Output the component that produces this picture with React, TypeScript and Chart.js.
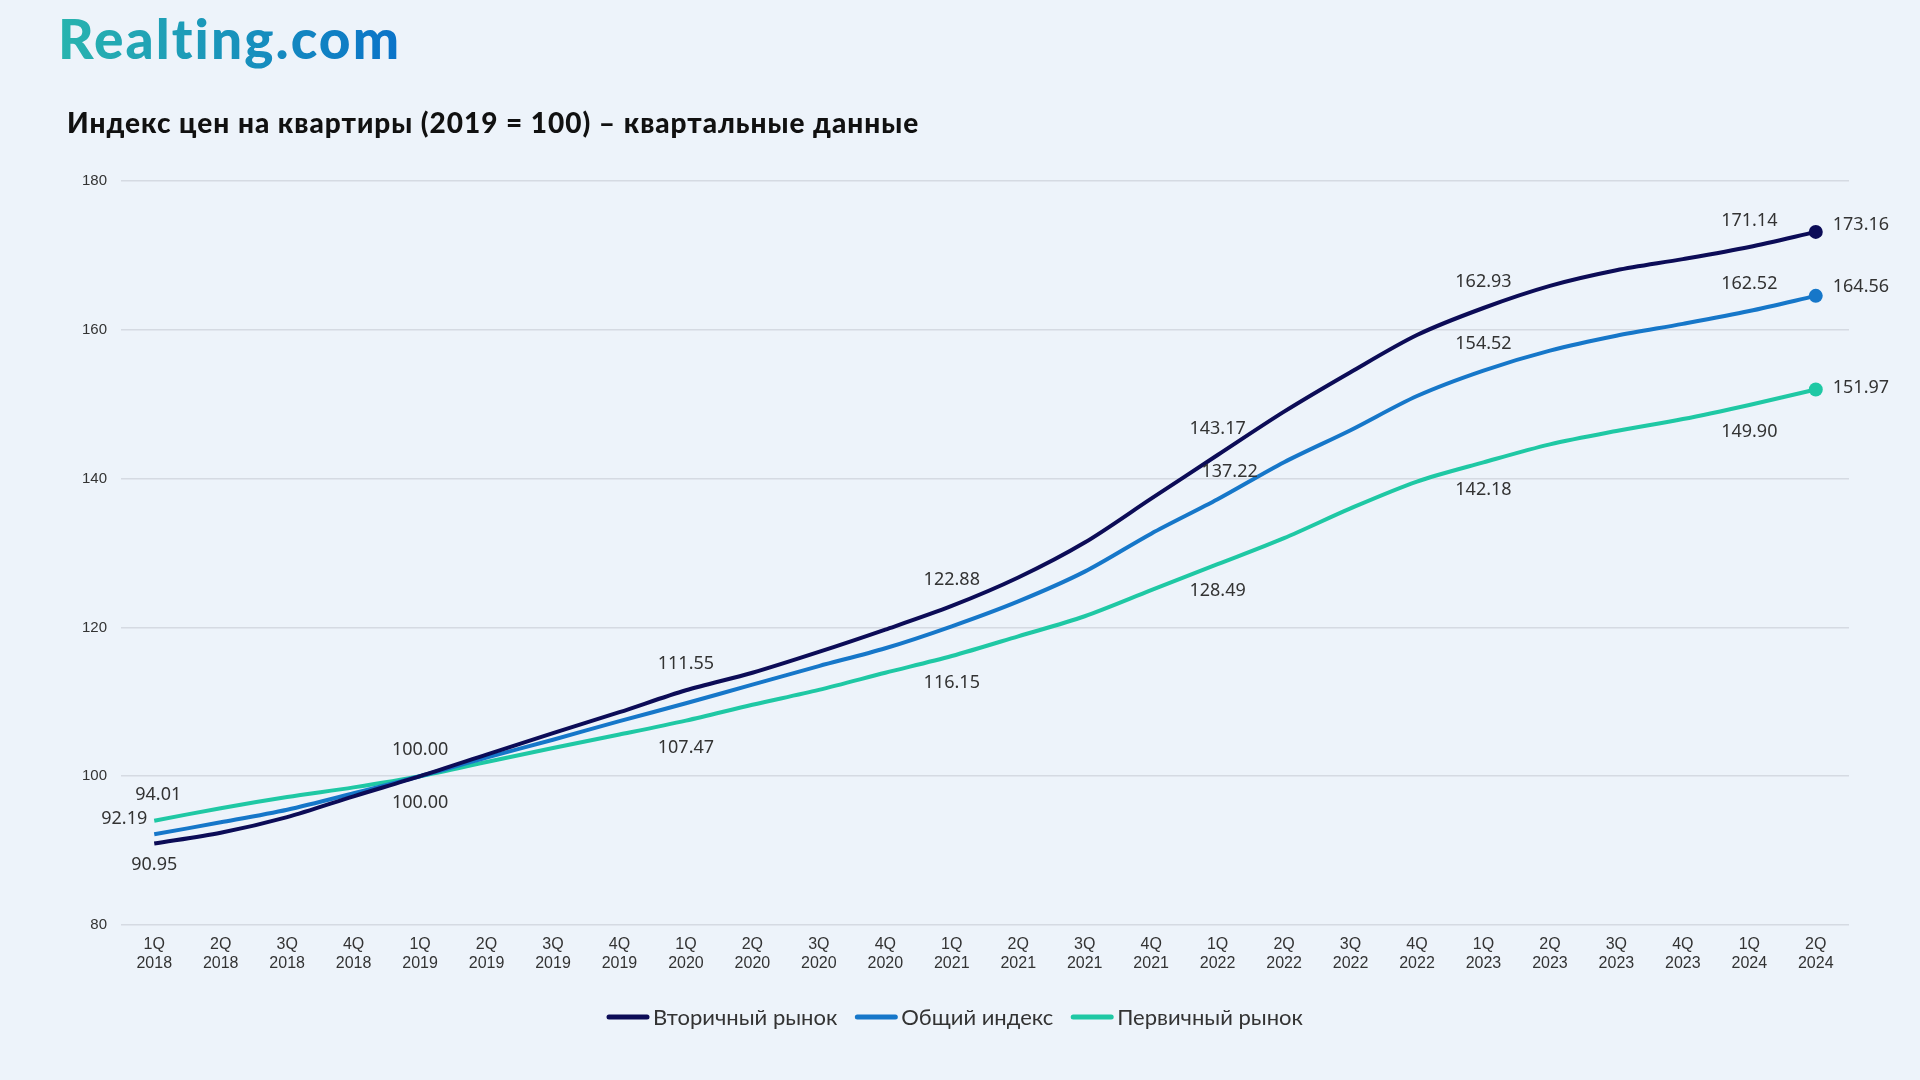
import { useEffect, useRef } from "react";
import { Chart, registerables } from "chart.js";

Chart.register(...registerables);

// ---------- DATA ----------
const quarterLabels = ["1Q", "2Q", "3Q", "4Q", "1Q", "2Q", "3Q", "4Q", "1Q", "2Q", "3Q", "4Q", "1Q", "2Q", "3Q", "4Q", "1Q", "2Q", "3Q", "4Q", "1Q", "2Q", "3Q", "4Q", "1Q", "2Q"];
const yearLabels = ["2018", "2018", "2018", "2018", "2019", "2019", "2019", "2019", "2020", "2020", "2020", "2020", "2021", "2021", "2021", "2021", "2022", "2022", "2022", "2022", "2023", "2023", "2023", "2023", "2024", "2024"];

const secondaryMarket = [90.95, 92.4, 94.5, 97.3, 100.0, 102.9, 105.8, 108.6, 111.55, 113.9, 116.7, 119.7, 122.88, 126.7, 131.4, 137.3, 143.17, 149.0, 154.3, 159.3, 162.93, 165.9, 168.0, 169.5, 171.14, 173.16];
const generalIndex = [92.19, 93.8, 95.5, 97.7, 100.0, 102.5, 104.9, 107.4, 109.8, 112.3, 114.8, 117.2, 120.15, 123.5, 127.5, 132.6, 137.22, 142.2, 146.5, 151.1, 154.52, 157.2, 159.2, 160.8, 162.52, 164.56];
const primaryMarket = [94.01, 95.7, 97.2, 98.5, 100.0, 101.9, 103.8, 105.6, 107.47, 109.6, 111.6, 113.9, 116.15, 118.8, 121.5, 125.0, 128.49, 132.0, 136.0, 139.6, 142.18, 144.6, 146.4, 148.0, 149.9, 151.97];

const seriesNames = ["Вторичный рынок", "Общий индекс", "Первичный рынок"];

// indices of points that carry a value label
const secondaryLabelIdx = [0, 4, 8, 12, 16, 20, 24, 25];
const generalLabelIdx = [0, 16, 20, 24, 25];
const primaryLabelIdx = [0, 4, 8, 12, 16, 20, 24, 25];

const yTicks = [80, 100, 120, 140, 160, 180];

const titleText = "Индекс цен на квартиры (2019 = 100) – квартальные данные";
const logoText = "Realting.com";

// ---------- STYLE ----------
const BG = "#edf3fa";
const COLORS = ["#0c0c57", "#1677c9", "#1fc8a4"];
const TEXT = "#333333";
const LAST = quarterLabels.length - 1;

type Place = { dx: number; dy: number; align: CanvasTextAlign };
function placeFor(series: number, idx: number): Place {
  if (idx === LAST) return { dx: 17, dy: series === 0 ? -7 : series === 1 ? -9 : -2, align: "left" };
  if (series === 0) {
    if (idx === 0) return { dx: 0, dy: 21, align: "center" };
    return { dx: 0, dy: -26, align: "center" };
  }
  if (series === 1) {
    if (idx === 0) return { dx: -7, dy: -15, align: "right" };
    if (idx === 16) return { dx: 12, dy: -27, align: "center" };
    return { dx: 0, dy: -27, align: "center" };
  }
  if (idx === 0) return { dx: 4, dy: -26, align: "center" };
  return { dx: 0, dy: 27, align: "center" };
}

const labelPlugin = {
  id: "valueLabels",
  afterDatasetsDraw(chart: any) {
    const ctx: CanvasRenderingContext2D = chart.ctx;
    const xs = chart.scales.x;
    const ys = chart.scales.y;
    const sets = [secondaryMarket, generalIndex, primaryMarket];
    const idxs = [secondaryLabelIdx, generalLabelIdx, primaryLabelIdx];
    ctx.save();
    ctx.font = '18px "Noto Sans"';
    ctx.fillStyle = TEXT;
    ctx.textBaseline = "middle";
    sets.forEach((data, s) => {
      idxs[s].forEach((i) => {
        const p = placeFor(s, i);
        const x = xs.getPixelForValue(i) + p.dx;
        const y = ys.getPixelForValue(data[i]) + p.dy;
        ctx.textAlign = p.align;
        ctx.fillText(data[i].toFixed(2), x, y);
      });
    });
    ctx.restore();
  },
};

function fitSpacing(ctx: any, text: string, target: number) {
  ctx.letterSpacing = "0px";
  const w = ctx.measureText(text).width;
  const sp = (target - w) / Math.max(1, text.length - 1);
  ctx.letterSpacing = sp.toFixed(2) + "px";
}

const decorPlugin = {
  id: "decor",
  beforeDraw(chart: any) {
    const ctx: CanvasRenderingContext2D = chart.ctx;
    ctx.save();
    ctx.fillStyle = BG;
    ctx.fillRect(0, 0, chart.width, chart.height);
    ctx.restore();
  },
  afterDraw(chart: any) {
    const ctx: any = chart.ctx;
    ctx.save();
    ctx.textAlign = "left";
    ctx.textBaseline = "alphabetic";
    // logo
    ctx.font = "900 55px Lato";
    fitSpacing(ctx, logoText, 342);
    const g = ctx.createLinearGradient(58, 0, 400, 0);
    g.addColorStop(0, "#28b4ae");
    g.addColorStop(1, "#0a73c9");
    ctx.fillStyle = g;
    ctx.fillText(logoText, 58, 59);
    // title
    ctx.font = "900 28px Lato";
    fitSpacing(ctx, titleText, 851);
    ctx.fillStyle = "#111111";
    ctx.fillText(titleText, 67, 133);
    ctx.letterSpacing = "0px";
    // legend
    ctx.font = "22px Lato";
    let x = 607;
    const yLine = 1017;
    seriesNames.forEach((name, i) => {
      ctx.strokeStyle = COLORS[i];
      ctx.lineWidth = 5;
      ctx.lineCap = "round";
      ctx.beginPath();
      ctx.moveTo(x + 2, yLine);
      ctx.lineTo(x + 40, yLine);
      ctx.stroke();
      ctx.fillStyle = TEXT;
      ctx.fillText(name, x + 46, 1025);
      x += 46 + ctx.measureText(name).width + 18;
    });
    ctx.restore();
  },
};

export default function App() {
  const ref = useRef<HTMLCanvasElement | null>(null);
  useEffect(() => {
    if (!ref.current) return;
    const sets = [secondaryMarket, generalIndex, primaryMarket];
    const chart = new Chart(ref.current, {
      type: "line",
      data: {
        labels: quarterLabels.map((q, i) => [q, yearLabels[i]]),
        datasets: sets.map((d, i) => ({
          label: seriesNames[i],
          data: d,
          borderColor: COLORS[i],
          backgroundColor: COLORS[i],
          borderWidth: 4,
          tension: 0.3,
          pointRadius: (c: any) => (c.dataIndex === LAST ? 7 : 0),
          pointHoverRadius: 0,
          pointBorderWidth: 0,
          fill: false,
        })),
      },
      options: {
        responsive: false,
        animation: false,
        devicePixelRatio: 1,
        layout: { padding: { top: 181, right: 71, left: 0, bottom: 0 } },
        plugins: {
          legend: { display: false },
          title: { display: false },
          tooltip: { enabled: false },
        },
        scales: {
          x: {
            offset: true,
            grid: { display: false, drawTicks: false, offset: true },
            border: { display: false },
            ticks: {
              autoSkip: false,
              maxRotation: 0,
              padding: 10,
              color: TEXT,
              font: { family: '"Liberation Sans", Arial, sans-serif', size: 16 },
            },
            afterFit: (s: any) => {
              s.height = 155;
            },
          },
          y: {
            min: yTicks[0],
            max: yTicks[yTicks.length - 1],
            afterBuildTicks: (s: any) => {
              s.ticks = yTicks.map((v) => ({ value: v }));
            },
            grid: { color: "#d5dae2", lineWidth: 1.5, drawTicks: false },
            border: { display: false },
            ticks: {
              padding: 14,
              color: TEXT,
              font: { family: '"Liberation Sans", Arial, sans-serif', size: 15 },
            },
            afterFit: (s: any) => {
              s.width = 121;
            },
          },
        },
      },
      plugins: [decorPlugin, labelPlugin],
    });
    return () => chart.destroy();
  }, []);
  return (
    <div style={{ position: "fixed", left: 0, top: 0, width: 1920, height: 1080, background: BG }}>
      <canvas ref={ref} width={1920} height={1080} style={{ display: "block", width: 1920, height: 1080 }} />
    </div>
  );
}
